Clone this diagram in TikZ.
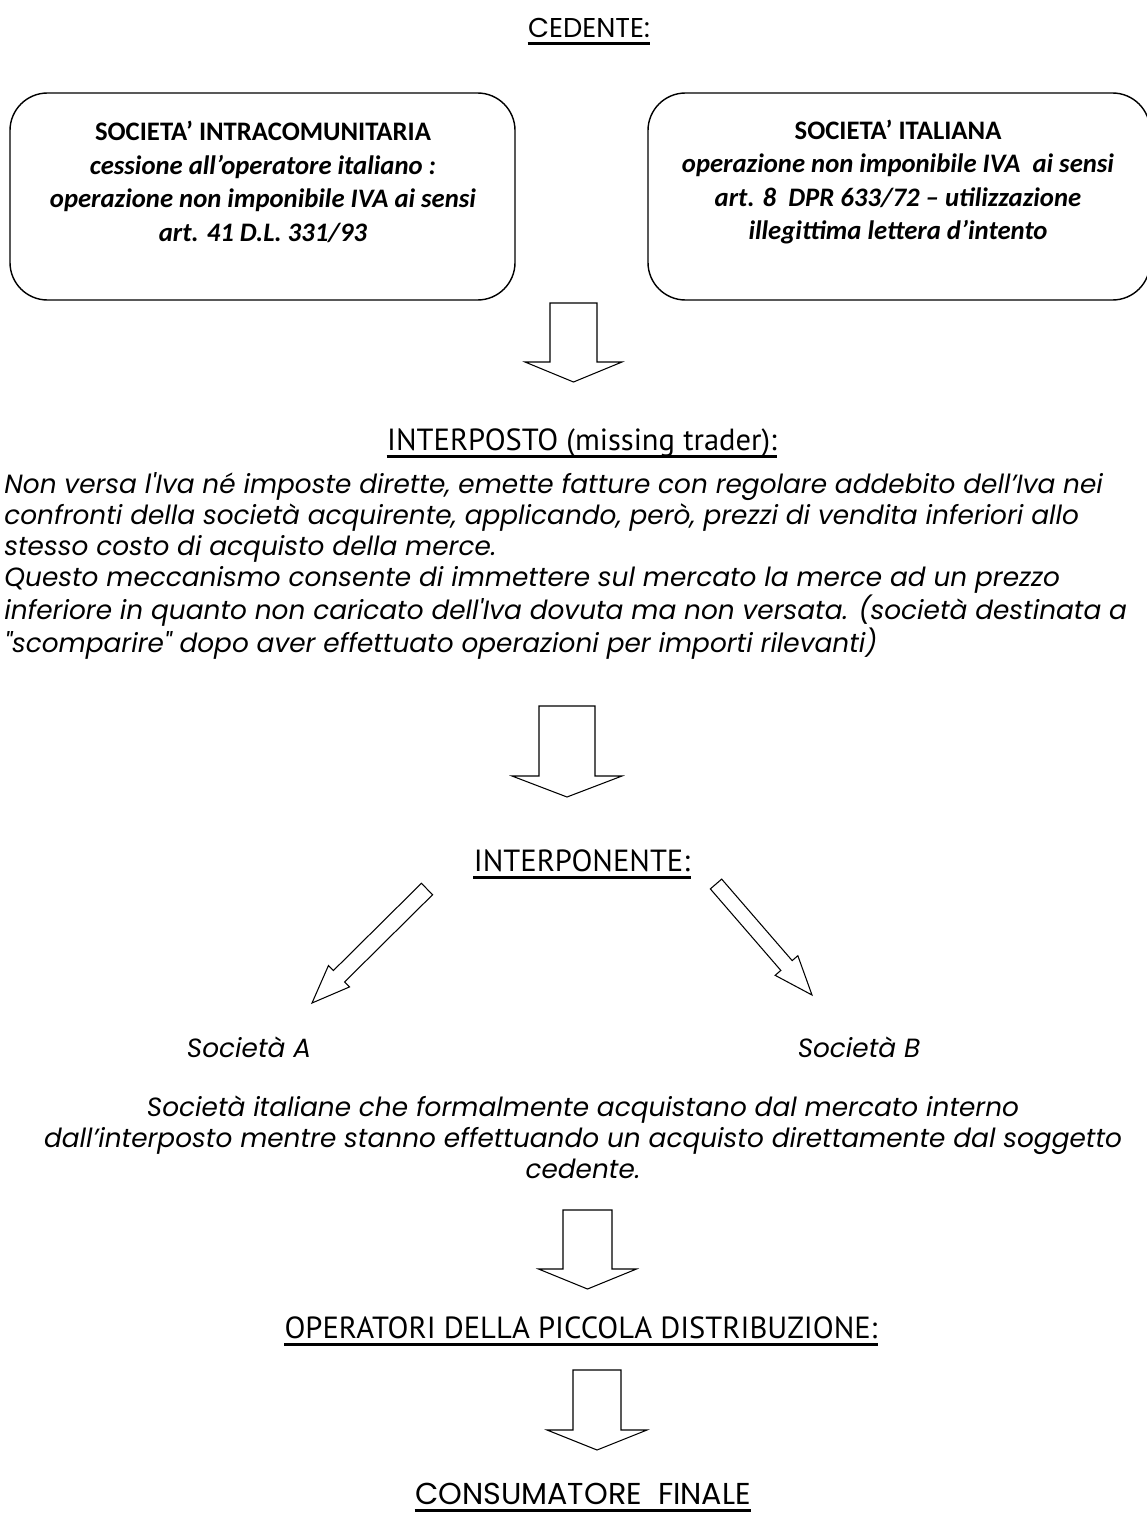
\documentclass[tikz,border=0pt]{standalone}
\usepackage{fontspec}
\setmainfont{Carlito}
\newfontfamily\gothic{Poppins}
\newfontfamily\twcen{PT Sans}
\usetikzlibrary{calc}

% block arrow: tail, tip, half shaft, half head, head length
\newcommand{\fatarrow}[5]{%
  \coordinate (h) at ($(#2)!#5!(#1)$);
  \draw ($(#1)!#3!-90:(#2)$) -- ($(h)!#3!-90:(#2)$) -- ($(h)!#4!-90:(#2)$) -- (#2)
     -- ($(h)!#4!90:(#2)$) -- ($(h)!#3!90:(#2)$) -- ($(#1)!#3!90:(#2)$) -- cycle;}
% underline under a heading node
\newcommand{\uline}[1]{\draw [line width=1.8pt] ([yshift=-3.5pt]#1.base west) -- ([yshift=-3.5pt]#1.base east);}

\begin{document}
\begin{tikzpicture}[x=0.02cm,y=-0.02cm,line width=0.6pt,
    box/.style={draw,rounded corners=0.75cm,line width=0.8pt},
    boxtext/.style={align=center,font=\fontsize{15.2}{19.1}\selectfont},
    head/.style={inner xsep=0pt,font=\twcen\fontsize{17.4}{20}\selectfont},
    head2/.style={inner xsep=0pt,inner ysep=1pt,font=\gothic\fontsize{15.5}{18}\selectfont},
    para/.style={font=\gothic\itshape\fontsize{15}{17.6}\selectfont}]
    \useasboundingbox (0,0) rectangle (1146,1517);

    \node (T1) at (589,28) [head2]{CEDENTE:};

    \draw [box] (10,93) rectangle (515,300);
    \draw [box] (648,93) rectangle (1150,300);
    \node (B1) at (263,182) [boxtext]{\textbf{SOCIETA’ INTRACOMUNITARIA}\\
        \textbf{\textit{cessione all’operatore italiano :}}\\
        \textbf{\textit{operazione non imponibile IVA ai sensi}}\\
        \textbf{\textit{art. 41 D.L. 331/93}}};
    \node (B2) at (898,182) [boxtext]{\textbf{SOCIETA’ ITALIANA}\\
        \textbf{\textit{operazione non imponibile IVA\ \ ai sensi}}\\
        \textbf{\textit{art. 8\ \ DPR 633/72 – utilizzazione}}\\
        \textbf{\textit{illegittima lettera d’intento}}};

    \node (T2) at (582,443) [head]{INTERPOSTO (missing trader):};
    \node (P1) at (-2,566) [para,anchor=west,align=left]{Non versa l'Iva né imposte dirette, emette fatture con regolare addebito dell’Iva nei\\
        confronti della società acquirente, applicando, però, prezzi di vendita inferiori allo\\
        stesso costo di acquisto della merce.\\
        Questo meccanismo consente di immettere sul mercato la merce ad un prezzo\\
        inferiore in quanto non caricato dell'Iva dovuta ma non versata. (società destinata a\\
        "scomparire" dopo aver effettuato operazioni per importi rilevanti)};

    \node (T3) at (582,861) [head]{INTERPONENTE:};
    \node (S1) at (249,1047) [para]{Società A};
    \node (S2) at (859,1047) [para]{Società B};
    \node (P2) at (583,1137) [para,align=center]{Società italiane che formalmente acquistano dal mercato interno\\
        dall’interposto mentre stanno effettuando un acquisto direttamente dal soggetto\\
        cedente.};

    \node (T4) at (581,1328) [head]{OPERATORI DELLA PICCOLA DISTRIBUZIONE:};
    \node (T5) at (583,1494) [head2,font=\gothic\fontsize{17.2}{20}\selectfont]{CONSUMATORE\ \ FINALE};

    \uline{T1} \uline{T2} \uline{T3} \uline{T4} \uline{T5}

    % arrows
    \coordinate (A1) at (573.5,303);  \coordinate (A1e) at (573.5,382);
    \coordinate (A2) at (567,706);    \coordinate (A2e) at (567,797);
    \coordinate (A3) at (587.5,1210); \coordinate (A3e) at (587.5,1289);
    \coordinate (A4) at (597,1370);   \coordinate (A4e) at (597,1450);
    \coordinate (D1) at (427,889);    \coordinate (D1e) at (312,1003);
    \coordinate (D2) at (716,884);    \coordinate (D2e) at (812,995);
    \fatarrow{A1}{A1e}{0.47cm}{0.97cm}{0.4cm}
    \fatarrow{A2}{A2e}{0.56cm}{1.1cm}{0.42cm}
    \fatarrow{A3}{A3e}{0.49cm}{0.98cm}{0.4cm}
    \fatarrow{A4}{A4e}{0.48cm}{1.0cm}{0.4cm}
    \fatarrow{D1}{D1e}{0.16cm}{0.3cm}{0.76cm}
    \fatarrow{D2}{D2e}{0.15cm}{0.3cm}{0.78cm}
\end{tikzpicture}
\end{document}
